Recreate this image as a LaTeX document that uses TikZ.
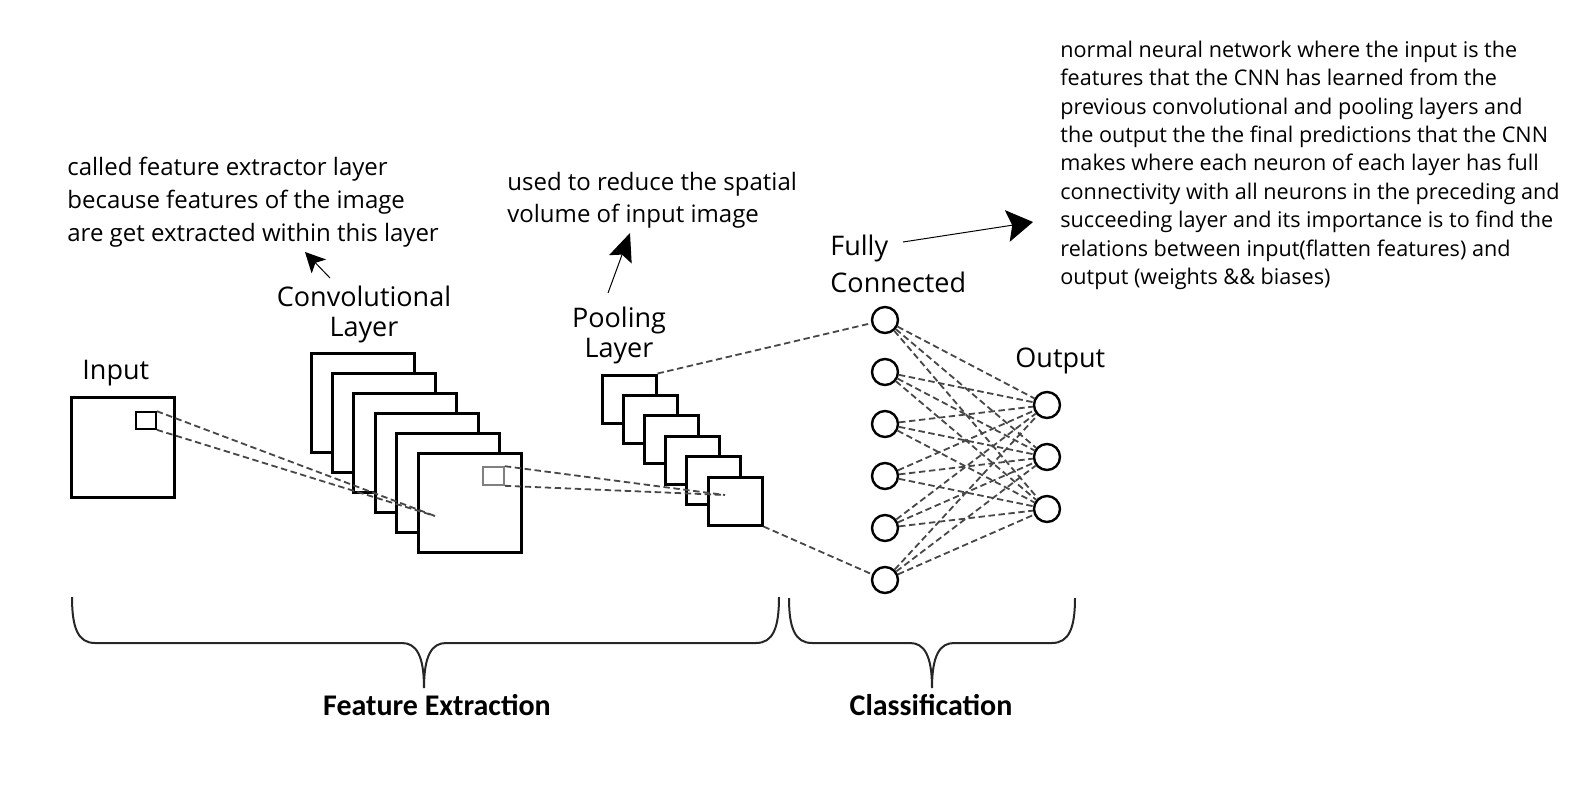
\documentclass[tikz,border=0pt]{standalone}
\usepackage{fontspec}
\setmainfont{Open Sans}
\newfontfamily\boldlabel{Carlito}
\usetikzlibrary{arrows.meta}

\begin{document}
\begin{tikzpicture}[
  x=0.5pt, y=-0.5pt,
  fmap/.style={rectangle, draw, line width=1.5pt, fill=white, inner sep=0pt},
  window/.style={rectangle, draw, line width=0.8pt, inner sep=0pt},
  neuron/.style={circle, draw, line width=1.2pt, fill=white, minimum size=13pt, inner sep=0pt},
  dashlink/.style={draw=black!72, line width=0.9pt, dash pattern=on 3.2pt off 1.8pt},
  pointer/.style 2 args={line width=0.5pt, -{Stealth[length=#1, width=#2, inset=2.5pt]}},
  layerlabel/.style={inner sep=0pt, font=\fontsize{13.5}{15}\selectfont, align=center},
  note/.style={inner sep=0pt, align=left, font=\fontsize{12}{16.5}\selectfont},
  part/.style={inner sep=0pt, font=\boldlabel\bfseries\fontsize{15}{18}\selectfont},
  curly/.style={line width=1pt, black!85}
]
\useasboundingbox (0,0) rectangle (1591,794);

% Input image
\node[fmap, minimum width=51.5pt, minimum height=50pt] (input) at (122.5,447) {};
\node[window, minimum width=10pt, minimum height=8.5pt] (insq) at (146,420.5) {};
\node[layerlabel, anchor=base west] (inlabel) at (82,379) {Input};

% Convolutional layer
\foreach \i in {1,...,6}
  \node[fmap, minimum width=51.5pt, minimum height=49.5pt] (conv\i) at ({362.5+21.4*(\i-1)},{402.5+20*(\i-1)}) {};
\node[window, draw=black!50, minimum width=10.5pt, minimum height=9pt] (convsq) at (493.5,476) {};
\node[layerlabel, anchor=north] (convlabel) at (364,285.5) {Convolutional\\Layer};

% Pooling layer
\foreach \i in {1,...,6}
  \node[fmap, minimum width=27pt, minimum height=24pt] (pool\i) at ({629+21.2*(\i-1)},{399+20.4*(\i-1)}) {};
\node[layerlabel, anchor=north] (poollabel) at (619,306.5) {Pooling\\Layer};

% Fully connected and output neurons
\foreach \i in {1,...,6}
  \node[neuron] (fc\i) at (885,{320+52*(\i-1)}) {};
\node[layerlabel, anchor=north west, align=left, font=\fontsize{13.5}{18.5}\selectfont] (fclabel) at (830,234.5) {Fully\\Connected};
\foreach \j in {1,2,3}
  \node[neuron] (out\j) at (1047,{405+52*(\j-1)}) {};
\node[layerlabel, anchor=base west] (outlabel) at (1015,367) {Output};

% Dashed links
\coordinate (convpt) at (435,516);
\coordinate (poolpt) at (725,495);
\draw[dashlink] (insq.north east) -- (convpt);
\draw[dashlink] (insq.south east) -- (convpt);
\draw[dashlink] (convsq.north east) -- (poolpt);
\draw[dashlink] (convsq.south east) -- (poolpt);
\draw[dashlink] (pool1.north east) -- (fc1);
\draw[dashlink] (pool6.south east) -- (fc6);
\foreach \i in {1,...,6}
  \foreach \j in {1,2,3}
    \draw[dashlink] (fc\i) -- (out\j);

% Notes
\node[note, anchor=north west] (convnote) at (67,157) {called feature extractor layer\\because features of the image\\are get extracted within this layer};
\node[note, anchor=north west, font=\fontsize{12}{16}\selectfont] (poolnote) at (507,172) {used to reduce the spatial\\volume of input image};
\node[note, anchor=north west, font=\fontsize{10.8}{14.2}\selectfont] (fcnote) at (1060,40.5) {normal neural network where the input is the\\features that the CNN has learned from the\\previous convolutional and pooling layers and\\the output the the final predictions that the CNN\\makes where each neuron of each layer has full\\connectivity with all neurons in the preceding and\\succeeding layer and its importance is to find the\\relations between input(flatten features) and\\output (weights \&\& biases)};

% Note arrows
\coordinate (convtail) at (330,278);
\coordinate (convtip) at (305,252);
\coordinate (pooltail) at (608,293);
\coordinate (pooltip) at (630,233);
\coordinate (fctail) at (903,242);
\coordinate (fctip) at (1033,222);
\draw[pointer={10pt}{10pt}] (convtail) -- (convtip);
\draw[pointer={14pt}{12pt}] (pooltail) -- (pooltip);
\draw[pointer={13pt}{16pt}] (fctail) -- (fctip);

% Braces
\draw[curly] (72,597) .. controls (72,628) and (78,643) .. (95,643) -- (402,643)
  .. controls (416,643) and (424,655) .. (424,688)
  .. controls (424,655) and (432,643) .. (446,643) -- (756,643)
  .. controls (773,643) and (779,628) .. (779,597);
\draw[curly] (789,598) .. controls (789,628) and (795,643) .. (812,643) -- (910,643)
  .. controls (924,643) and (932,655) .. (932,688)
  .. controls (932,655) and (940,643) .. (954,643) -- (1052,643)
  .. controls (1069,643) and (1075,628) .. (1075,598);
\node[part, anchor=base] (featlabel) at (437,715) {Feature Extraction};
\node[part, anchor=base] (clslabel) at (931,715) {Classification};
\end{tikzpicture}
\end{document}
